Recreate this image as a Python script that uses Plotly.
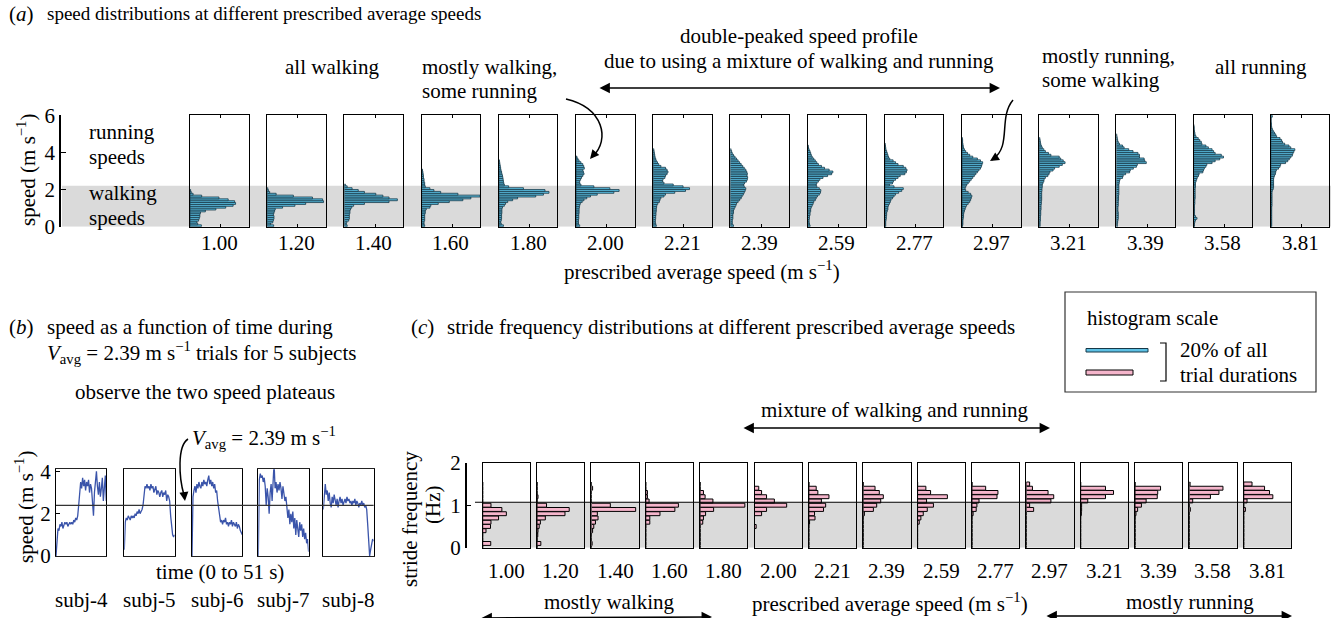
import plotly.graph_objects as go

W, H = 1338, 618
FONT = "Liberation Serif"

# ---------------- data ----------------
speed_labels = ["1.00", "1.20", "1.40", "1.60", "1.80", "2.00", "2.21", "2.39",
                "2.59", "2.77", "2.97", "3.21", "3.39", "3.58", "3.81"]

# (a) % of trial duration in 0.1 m/s speed bins, starting at 0 m/s
h100 = [3.7, 2.5, 2.2, 2.8, 3.0, 3.2, 3.2, 3.4, 5.0, 8.4, 11.6, 14.0, 14.8, 14.5, 12.4, 9.4, 3.8, 1.0, 0.4, 0.2]
h120 = [2.1, 1.1, 1.8, 2.0, 2.2, 2.2, 2.0, 2.2, 2.4, 2.6, 5.0, 9.0, 12.5, 18.3, 18.0, 14.7, 8.5, 2.9, 0.8, 0.4, 0.2]
h140 = [0.9, 0.6, 0.8, 1.4, 1.6, 1.6, 1.6, 1.8, 1.8, 2.0, 2.4, 3.0, 6.5, 14.5, 17.2, 14.5, 12.5, 10.2, 6.5, 4.5, 2.5, 0.9, 0.3]
h160 = [1.0, 0.8, 0.8, 1.0, 1.0, 1.0, 1.0, 1.2, 1.2, 1.5, 2.7, 3.0, 5.4, 9.0, 13.4, 16.0, 19.0, 11.8, 6.2, 4.0, 2.7, 1.2,
        1.0, 1.0, 0.8, 0.8, 0.6, 0.6, 0.5, 0.4, 0.3]
h180 = [1.5, 0.8, 0.6, 0.8, 0.9, 0.9, 0.9, 1.0, 1.0, 1.0, 1.2, 1.8, 2.2, 2.9, 4.5, 6.1, 12.0, 14.5, 16.3, 15.0, 8.0, 3.2,
        1.8, 1.6, 1.5, 1.4, 1.3, 1.2, 1.0, 0.9, 0.7, 0.6, 0.5, 0.4, 0.3, 0.2]
h200 = [1.2, 0.8, 0.8, 0.8, 0.9, 0.9, 0.9, 1.0, 1.0, 1.0, 1.1, 1.2, 1.4, 2.0, 2.6, 3.5, 4.7, 6.9, 12.3, 14.0, 11.0, 5.8,
        1.6, 1.2, 1.2, 1.5, 1.8, 2.2, 2.6, 2.4, 2.2, 2.7, 2.5, 2.2, 1.6, 1.0, 0.6, 0.3]
h221 = [1.0, 0.8, 0.7, 0.7, 0.8, 0.8, 0.9, 0.9, 1.0, 1.0, 1.1, 1.2, 1.5, 2.0, 2.2, 2.5, 3.5, 4.0, 7.0, 10.5, 11.8, 9.7,
        6.5, 3.5, 3.0, 3.2, 3.8, 4.0, 4.5, 4.8, 4.5, 4.0, 2.5, 1.8, 1.4, 1.0, 0.8, 0.6, 0.5, 0.4, 0.3, 0.2]
h239 = [1.0, 0.6, 0.6, 0.6, 0.8, 0.8, 0.8, 1.0, 1.0, 1.2, 1.5, 1.8, 2.0, 2.5, 3.0, 3.5, 3.8, 4.2, 4.5, 4.8, 5.0, 4.5,
        4.3, 4.6, 5.2, 5.5, 5.6, 5.4, 5.5, 5.3, 5.0, 4.5, 4.0, 3.5, 3.0, 2.5, 2.0, 1.5, 1.0, 0.6, 0.4, 0.2]
h259 = [0.8, 0.6, 0.5, 0.5, 0.6, 0.6, 0.8, 0.8, 1.0, 1.0, 1.2, 1.5, 1.8, 2.0, 2.5, 2.8, 3.2, 3.8, 4.2, 4.3, 3.8, 3.0,
        2.8, 3.0, 3.5, 4.0, 5.0, 6.5, 7.8, 8.2, 7.0, 5.5, 4.5, 3.5, 3.0, 2.5, 2.0, 1.5, 1.2, 1.0, 0.8, 0.5, 0.3, 0.2]
h277 = [0.3, 0.3, 0.3, 0.4, 0.5, 0.5, 0.6, 0.6, 0.8, 1.0, 1.0, 1.2, 1.5, 1.8, 2.0, 2.5, 3.0, 3.5, 4.5, 5.5, 6.0, 3.0,
        1.5, 2.5, 2.8, 3.5, 4.3, 5.0, 6.5, 7.0, 7.2, 6.8, 6.0, 4.3, 3.5, 2.7, 1.6, 1.2, 1.0, 0.8, 0.6, 0.4, 0.3, 0.2, 0.1]
h297 = [0.2, 0.3, 0.3, 0.3, 0.4, 0.5, 0.5, 0.6, 0.8, 1.0, 1.2, 1.5, 2.0, 2.5, 2.8, 3.0, 3.2, 2.8, 2.0, 1.2, 1.0, 1.2,
        1.5, 2.0, 2.5, 3.0, 3.5, 4.0, 4.5, 5.0, 5.5, 6.0, 6.3, 6.5, 6.7, 6.0, 5.0, 3.5, 2.5, 1.8, 1.2, 0.8, 0.5, 0.4,
        0.3, 0.2, 0.2, 0.1]
h321 = [0.3, 0.3, 0.3, 0.4, 0.4, 0.4, 0.5, 0.5, 0.5, 0.6, 0.6, 0.6, 0.7, 0.7, 0.8, 0.8, 0.8, 0.8, 0.8, 0.9, 0.9, 1.0,
        1.0, 1.2, 1.5, 1.6, 2.0, 2.8, 3.2, 3.5, 4.5, 5.0, 6.5, 7.5, 8.4, 7.8, 7.0, 6.5, 3.8, 3.0, 2.0, 1.5, 1.0, 0.7,
        0.5, 0.4, 0.3, 0.2]
h339 = [0.3, 0.3, 0.4, 0.5, 0.6, 0.6, 0.6, 0.6, 0.5, 0.5, 0.5, 0.6, 0.6, 0.6, 0.7, 0.7, 0.7, 0.8, 0.8, 0.8, 0.8, 0.8,
        0.8, 0.9, 1.0, 1.2, 2.0, 2.2, 3.0, 4.3, 4.5, 5.5, 6.5, 6.8, 9.7, 9.2, 9.0, 7.5, 7.5, 7.0, 5.4, 4.0, 2.5, 2.0,
        1.0, 0.6, 0.4, 0.3, 0.2, 0.1]
h358 = [0.3, 0.3, 0.4, 0.6, 1.1, 0.6, 0.3, 0.3, 0.3, 0.3, 0.3, 0.3, 0.4, 0.4, 0.4, 0.5, 0.5, 0.5, 0.5, 0.5, 0.5, 0.6,
        0.6, 0.6, 0.8, 1.0, 1.2, 1.6, 1.8, 3.0, 3.2, 3.5, 4.0, 4.3, 6.0, 7.0, 8.5, 9.7, 9.0, 7.0, 6.5, 6.0, 4.8, 4.0,
        2.7, 2.5, 2.0, 1.5, 0.8, 0.5, 0.4, 0.3, 0.2, 0.2, 0.1]
h381 = [0.3, 0.3, 0.3, 0.3, 0.3, 0.3, 0.3, 0.3, 0.3, 0.3, 0.3, 0.4, 0.4, 0.4, 0.4, 0.4, 0.4, 0.4, 0.4, 0.5, 0.8, 0.9,
        0.9, 0.9, 0.9, 0.9, 1.0, 1.2, 1.5, 1.6, 1.8, 2.5, 3.0, 3.2, 4.8, 5.5, 6.0, 6.5, 7.0, 7.2, 7.5, 7.8, 6.5, 5.9,
        4.5, 3.8, 3.5, 3.0, 1.9, 1.6, 1.2, 0.8, 0.5, 0.3, 0.2, 0.2, 0.1, 0.1, 0.1, 0.5]
speed_hists = [h100, h120, h140, h160, h180, h200, h221, h239, h259, h277, h297, h321, h339, h358, h381]
speed_bin = 0.1

# (c) % of trial duration per 0.1 Hz stride-frequency bin, bins centred on 0.0 ... 1.5 Hz
sf100 = [0, 3.4, 0, 0, 1.4, 3.3, 3.5, 6.7, 10.0, 8.1, 3.5, 0, 0, 0, 0, 0]
sf120 = [0, 1.6, 0, 0.3, 0.4, 0.9, 1.4, 3.5, 11.8, 13.6, 4.0, 0, 0.4, 0, 0, 0]
sf140 = [0, 0.3, 0, 0, 0.5, 1.0, 1.7, 2.8, 2.5, 18.7, 8.0, 0, 0, 0, 0.5, 0]
sf160 = [0, 0, 0, 0, 0, 0, 1.7, 1.7, 6.0, 12.3, 13.8, 1.4, 0.7, 0.7, 0, 0]
sf180 = [0, 0, 0, 0, 0, 0, 1.1, 1.4, 2.3, 5.7, 18.9, 5.4, 2.1, 1.4, 0, 0]
sf200 = [0, 0, 0, 0, 0, 0.7, 0, 0, 3.0, 5.1, 13.6, 8.4, 5.1, 3.0, 1.8, 0]
sf221 = [0, 0, 0, 0, 0, 0, 0.3, 2.6, 2.4, 6.2, 7.1, 5.3, 8.5, 3.8, 3.1, 0]
sf239 = [0, 0, 0, 0, 0, 0, 0, 0, 0.5, 4.3, 5.7, 7.4, 8.5, 6.8, 5.0, 0]
sf259 = [0, 0, 0, 0, 0, 0, 0.7, 1.4, 2.4, 4.1, 6.7, 3.8, 12.6, 5.5, 3.5, 0]
sf277 = [0, 0, 0, 0, 0, 0, 0, 0, 0.5, 1.8, 2.1, 3.0, 10.6, 11.0, 5.8, 0]
sf297 = [0, 0, 0, 0, 0, 0, 0, 0, 0, 3.1, 1.4, 10.4, 11.6, 9.2, 2.6, 1.4]
sf321 = [0, 0, 0, 0, 0, 0, 0, 0, 0.3, 0.4, 0.4, 3.0, 10.5, 13.9, 10.5, 0]
sf339 = [0, 0, 0, 0, 0, 0, 0, 0, 0.4, 1.1, 2.7, 4.7, 9.4, 9.6, 10.8, 0]
sf358 = [0, 0, 0, 0, 0, 0, 0, 0, 0, 0.4, 0, 1.4, 8.9, 12.5, 14.2, 0.3]
sf381 = [0, 0, 0, 0, 0, 0, 0, 0, 0, 0.7, 0, 1.4, 12.3, 10.9, 8.8, 3.5]
stride_hists = [sf100, sf120, sf140, sf160, sf180, sf200, sf221, sf239, sf259, sf277, sf297, sf321, sf339, sf358, sf381]
stride_bin = 0.1

# (b) speed (m/s) vs time (s), 5 subjects at Vavg = 2.39 m/s
time_s = list(range(52))
subj_names = ["subj-4", "subj-5", "subj-6", "subj-7", "subj-8"]
s4 = [0.0, 1.0, 1.3, 1.2, 1.5, 1.4, 1.6, 1.3, 1.5, 1.6, 1.5, 1.6, 1.4, 1.5, 1.6, 1.5, 1.6, 1.5, 1.7, 1.6, 1.8, 1.7,
      1.9, 2.4, 3.0, 3.5, 3.2, 3.7, 3.3, 3.6, 3.1, 3.5, 3.3, 3.6, 3.0, 3.4, 3.2, 2.6, 1.9, 3.0, 3.6, 4.0, 3.3, 2.9,
      3.5, 2.8, 3.2, 3.7, 2.6, 3.4, 3.8, 2.6]
s5 = [0.3, 1.6, 1.8, 1.7, 1.9, 1.8, 1.7, 1.9, 1.8, 1.9, 1.8, 2.0, 1.9, 2.1, 2.0, 2.2, 2.0, 2.1, 2.2, 2.4, 3.0, 3.3,
      3.2, 3.4, 3.2, 3.3, 3.1, 3.4, 3.2, 3.3, 3.0, 3.2, 3.3, 2.9, 3.1, 3.0, 2.8, 3.0, 3.1, 2.8, 3.0, 2.9, 3.1, 2.6,
      2.9, 2.8, 2.6, 1.9, 1.3, 1.0, 0.9, 1.0]
s6 = [0.0, 2.8, 3.1, 3.3, 3.0, 3.4, 3.2, 3.5, 3.3, 3.2, 3.5, 3.3, 3.6, 3.4, 3.5, 3.3, 3.6, 3.8, 3.4, 3.6, 3.3, 3.5,
      3.2, 3.4, 3.0, 3.1, 2.6, 2.2, 1.7, 1.6, 1.7, 1.5, 1.7, 1.6, 1.8, 1.5, 1.6, 1.4, 1.6, 1.5, 1.7, 1.4, 1.6, 1.5,
      1.4, 1.6, 1.3, 1.5, 1.4, 1.2, 1.1, 1.0]
s7 = [0.0, 3.6, 3.9, 3.7, 3.8, 3.5, 3.7, 3.3, 2.4, 3.2, 2.8, 2.0, 3.0, 3.4, 2.6, 3.5, 4.4, 3.2, 3.5, 3.0, 3.4, 3.1,
      3.5, 3.2, 2.7, 3.3, 3.0, 2.6, 2.8, 2.3, 1.8, 2.2, 1.5, 2.0, 1.6, 2.1, 1.3, 1.8, 1.0, 1.7, 1.4, 0.9, 1.6, 1.2,
      1.5, 0.9, 1.3, 0.8, 1.1, 0.6, 0.8, 0.2]
s8 = [2.2, 2.8, 3.4, 2.9, 3.1, 2.6, 3.0, 2.5, 2.3, 2.8, 2.5, 2.9, 2.6, 2.4, 2.7, 2.3, 2.6, 2.8, 2.5, 2.7, 2.4, 2.6,
      2.7, 2.5, 2.8, 2.6, 2.7, 2.5, 2.6, 2.4, 2.6, 2.5, 2.7, 2.4, 2.6, 2.5, 2.3, 2.5, 2.4, 2.6, 2.4, 2.5, 2.3, 2.4,
      2.2, 1.5, 0.5, 0.0, 0.3, 0.6, 0.8, 0.7]
subj_speeds = [s4, s5, s6, s7, s8]

v_avg = 2.39
walk_speed_top = 2.2
walk_sf_top = 1.07

# ---------------- styling ----------------
BLUE_FILL = "#5cc0e4"
BLUE_EDGE = "#163848"
PINK_FILL = "#f5b5cb"
LINE_BLUE = "#3a54aa"
GRAY = "#dadada"


def px(x):
    return x / W


def py(y):
    return 1 - y / H


fig = go.Figure()
axes = {}
counter = [0]


def new_axes(x0, x1, ytop, ybot, xr, yr, xextra=None, yextra=None):
    counter[0] += 1
    k = counter[0]
    s = "" if k == 1 else str(k)
    base = dict(showgrid=False, zeroline=False, showticklabels=False, ticks="", automargin=False,
                showline=True, mirror=True, linecolor="black", linewidth=1.2, fixedrange=True)
    xa = dict(base, domain=[px(x0), px(x1)], range=xr, anchor="y" + s)
    ya = dict(base, domain=[py(ybot), py(ytop)], range=yr, anchor="x" + s)
    if xextra:
        xa.update(xextra)
    if yextra:
        ya.update(yextra)
    axes["xaxis" + s] = xa
    axes["yaxis" + s] = ya
    return "x" + s, "y" + s


annotations = []
shapes = []


def text(t, x, y, xa="left", size=21, angle=0):
    annotations.append(dict(text=t, x=px(x), y=py(y), xref="paper", yref="paper",
                            xanchor=xa, yanchor="middle", showarrow=False, textangle=angle,
                            font=dict(family=FONT, size=size, color="black")))


def double_arrow(x0, x1, y):
    annotations.append(dict(text="", x=px(x1), y=py(y), xref="paper", yref="paper",
                            ax=-(x1 - x0), ay=0, axref="pixel", ayref="pixel", showarrow=True,
                            arrowhead=2, startarrowhead=2, arrowside="end+start",
                            arrowsize=1.3, arrowwidth=1.6, arrowcolor="black"))


def curve(points, tip, back):
    p = points
    d = "M {},{} C {},{} {},{} {},{}".format(px(p[0][0]), py(p[0][1]), px(p[1][0]), py(p[1][1]),
                                           px(p[2][0]), py(p[2][1]), px(p[3][0]), py(p[3][1]))
    shapes.append(dict(type="path", path=d, xref="paper", yref="paper",
                       line=dict(color="black", width=1.5)))
    annotations.append(dict(text="", x=px(tip[0]), y=py(tip[1]), xref="paper", yref="paper",
                            ax=back[0], ay=back[1], showarrow=True, arrowhead=2,
                            arrowsize=1.2, arrowwidth=1.5, arrowcolor="black"))


# ---------------- panel (a) ----------------
a_top, a_bot = 115.3, 226.7
a_first_y = None
for i, (lab, hist) in enumerate(zip(speed_labels, speed_hists)):
    left = 190 + i * 77.2
    xa, ya = new_axes(left, left + 58.5, a_top, a_bot, [0, 19], [0, 6],
                      xextra=dict(ticks="inside", tickvals=[10], ticklen=3, mirror="ticks", tickcolor="black"))
    if a_first_y is None:
        a_first_y = ya
    centers = [speed_bin * (k + 0.5) for k in range(len(hist))]
    fig.add_trace(go.Bar(x=hist, y=centers, orientation="h", width=speed_bin,
                         marker=dict(color=BLUE_FILL, line=dict(color=BLUE_EDGE, width=0.8)),
                         xaxis=xa, yaxis=ya, showlegend=False))
    text(lab, left + 29.2, 243, xa="center")

# left speed axis of (a)
xa, ya = new_axes(61, 70, a_top, a_bot, [0, 1], [0, 6],
                  xextra=dict(visible=False),
                  yextra=dict(mirror=False, ticks="inside", ticklen=5, tickvals=[0, 2, 4, 6],
                              showticklabels=True, linewidth=1.5, tickwidth=1.2, tickcolor="black",
                              tickfont=dict(family=FONT, size=21, color="black")))
fig.add_trace(go.Scatter(x=[None], y=[None], xaxis=xa, yaxis=ya, showlegend=False))

shapes.append(dict(type="rect", xref="paper", yref=a_first_y, x0=px(62), x1=px(1331),
                   y0=0, y1=walk_speed_top, fillcolor=GRAY, line=dict(width=0), layer="below"))

text("(<i>a</i>)", 7, 14)
text("speed distributions at different prescribed average speeds", 45, 14, size=19)
text("all walking", 332, 67, xa="center")
text("mostly walking,", 420, 67)
text("some running", 420, 91)
text("double-peaked speed profile", 799, 36, xa="center")
text("due to using a mixture of walking and running", 799, 61, xa="center")
text("mostly running,", 1040, 56)
text("some walking", 1040, 80)
text("all running", 1261, 67, xa="center")
text("speed (m s<sup>\u22121</sup>)", 27, 170, xa="center", angle=-90)
text("running", 87, 132)
text("speeds", 87, 157)
text("walking", 87, 193)
text("speeds", 87, 218)
text("prescribed average speed (m s<sup>\u22121</sup>)", 702, 271, xa="center")
double_arrow(598, 1000, 88)
curve([(566, 99), (604, 108), (610, 140), (593, 156)], (590, 159), (6, -7))
curve([(1013, 100), (998, 118), (1012, 146), (993, 159)], (990, 161), (8, -5))

# ---------------- panel (b) ----------------
b_top, b_bot = 469.3, 556
b_lefts = [56, 124.3, 192, 258.3, 323.3]
b_first_y = None
for i, (name, sp, left) in enumerate(zip(subj_names, subj_speeds, b_lefts)):
    yextra = None
    if i == 0:
        yextra = dict(ticks="inside", ticklen=4, tickvals=[0, 2, 4], showticklabels=True,
                      tickcolor="black", tickfont=dict(family=FONT, size=21, color="black"))
    xa, ya = new_axes(left, left + 50.3, b_top, b_bot, [0, 51], [0, 4.1], yextra=yextra,
                      xextra=dict(linecolor="#222"))
    if b_first_y is None:
        b_first_y = ya
    fig.add_trace(go.Scatter(x=time_s, y=sp, mode="lines", line=dict(color=LINE_BLUE, width=1.3),
                             xaxis=xa, yaxis=ya, showlegend=False))
    text(name, left + 25, 600, xa="center")

shapes.append(dict(type="line", xref="paper", yref=b_first_y, x0=px(56), x1=px(373.6),
                   y0=v_avg, y1=v_avg, line=dict(color="#333", width=1.3), layer="above"))

text("(<i>b</i>)", 7, 327)
text("speed as a function of time during", 45, 327)
text("<i>V</i><sub>avg</sub> = 2.39 m s<sup>\u22121</sup> trials for 5 subjects", 45, 352)
text("observe the two speed plateaus", 205, 392, xa="center")
text("<i>V</i><sub>avg</sub> = 2.39 m s<sup>\u22121</sup>", 190, 437)
text("speed (m s<sup>\u22121</sup>)", 24, 507, xa="center", angle=-90)
text("time (0 to 51 s)", 220, 572, xa="center")
curve([(188, 439), (177, 446), (179, 478), (184, 495)], (185, 501), (-1, -8))

# ---------------- panel (c) ----------------
c_top, c_bot = 462.7, 547.7
c_first_y = None
for i, (lab, hist) in enumerate(zip(speed_labels, stride_hists)):
    left = 482.7 + i * 54.36
    xa, ya = new_axes(left, left + 47.3, c_top, c_bot, [0, 20], [0, 2])
    if c_first_y is None:
        c_first_y = ya
    centers = [stride_bin * k for k in range(len(hist))]
    fig.add_trace(go.Bar(x=hist, y=centers, orientation="h", width=stride_bin * 0.92,
                         marker=dict(color=PINK_FILL, line=dict(color="black", width=1.0)),
                         xaxis=xa, yaxis=ya, showlegend=False))
    text(lab, left + 23.6, 571, xa="center")

xa, ya = new_axes(466.7, 475, c_top, c_bot, [0, 1], [0, 2],
                  xextra=dict(visible=False),
                  yextra=dict(mirror=False, ticks="inside", ticklen=5, tickvals=[0, 1, 2],
                              showticklabels=True, linewidth=1.5, tickwidth=1.2, tickcolor="black",
                              tickfont=dict(family=FONT, size=21, color="black")))
fig.add_trace(go.Scatter(x=[None], y=[None], xaxis=xa, yaxis=ya, showlegend=False))

shapes.append(dict(type="rect", xref="paper", yref=c_first_y, x0=px(482.7), x1=px(1291),
                   y0=0, y1=walk_sf_top, fillcolor=GRAY, line=dict(width=0), layer="below"))
shapes.append(dict(type="line", xref="paper", yref=c_first_y, x0=px(475), x1=px(1291),
                   y0=walk_sf_top, y1=walk_sf_top, line=dict(color="black", width=1.2), layer="above"))

text("(<i>c</i>)", 409, 327)
text("stride frequency distributions at different prescribed average speeds", 445, 327)
text("mixture of walking and running", 895, 410, xa="center")
double_arrow(742, 1050, 428)
text("stride frequency", 410, 519, xa="center", angle=-90)
text("(Hz)", 433, 505, xa="center", angle=-90)
text("mostly walking", 609, 602, xa="center")
text("prescribed average speed (m s<sup>\u22121</sup>)", 890, 602, xa="center")
text("mostly running", 1190, 602, xa="center")
double_arrow(480, 712, 621)
double_arrow(1045, 1292, 616)

# legend box
shapes.append(dict(type="rect", xref="paper", yref="paper", x0=px(1065), x1=px(1316),
                   y0=py(392), y1=py(292), line=dict(color="#333", width=1.2)))
shapes.append(dict(type="rect", xref="paper", yref="paper", x0=px(1086), x1=px(1148),
                   y0=py(352), y1=py(348.5), fillcolor=BLUE_FILL, line=dict(color=BLUE_EDGE, width=1)))
shapes.append(dict(type="rect", xref="paper", yref="paper", x0=px(1086), x1=px(1133),
                   y0=py(375), y1=py(370), fillcolor=PINK_FILL, line=dict(color="black", width=1)))
shapes.append(dict(type="path", xref="paper", yref="paper",
                   path="M {},{} L {},{} L {},{} L {},{}".format(px(1160), py(343), px(1166), py(343),
                                                                 px(1166), py(381), px(1160), py(381)),
                   line=dict(color="black", width=1.2)))
text("histogram scale", 1085, 318)
text("20% of all", 1178, 350)
text("trial durations", 1178, 375)

fig.update_layout(
    width=W, height=H, margin=dict(l=0, r=0, t=0, b=0, autoexpand=False),
    paper_bgcolor="white", plot_bgcolor="rgba(0,0,0,0)",
    font=dict(family=FONT, size=21, color="black"),
    showlegend=False, hovermode=False,
    annotations=annotations, shapes=shapes, **axes
)

fig.write_html("out.html", config={"displayModeBar": False},
               post_script="document.body.style.margin='0';")
